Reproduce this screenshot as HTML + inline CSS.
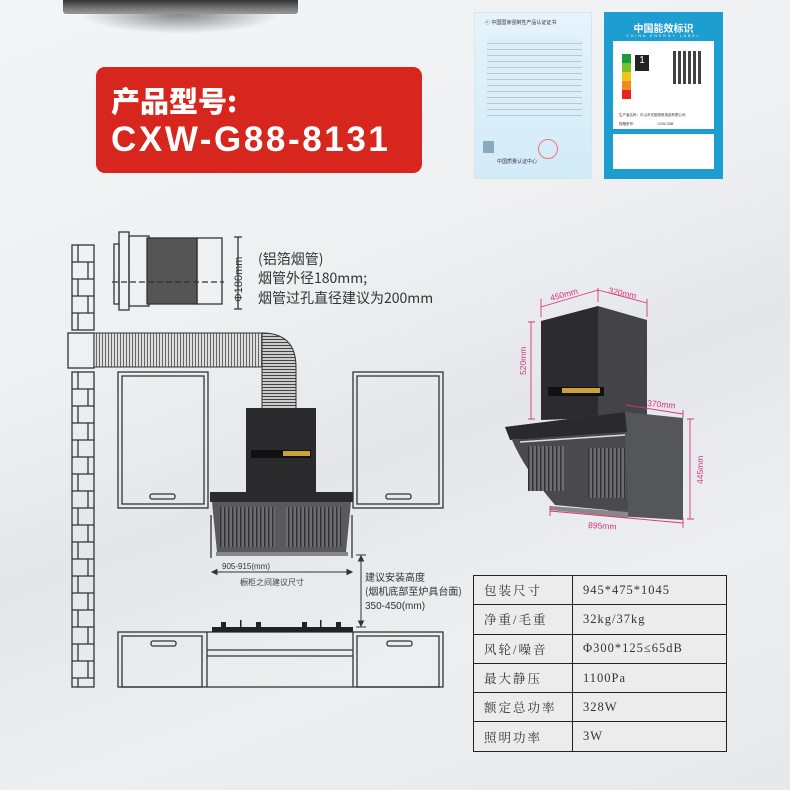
<!DOCTYPE html>
<html><head><meta charset="utf-8"><style>
*{margin:0;padding:0;box-sizing:border-box}
body{width:790px;height:790px;overflow:hidden;position:relative;font-family:"Liberation Sans","Noto Sans CJK SC",sans-serif;background:linear-gradient(160deg,#f3f4f6 0%,#eef0f2 35%,#e4e6e9 55%,#eceef0 75%,#e6e8ea 100%)}
.a{position:absolute}
.red{left:96px;top:67px;width:326px;height:106px;background:#d7261e;border-radius:9px;color:#fff;font-weight:bold;white-space:nowrap}
.tbl{left:473px;top:575px;width:254px;border-collapse:collapse;font-family:"Liberation Serif","Noto Serif CJK SC",serif;font-size:12.5px;color:#333}
.tbl td{border:1.6px solid #222;height:29.3px;padding-left:10px;background:#ececec;letter-spacing:1px}
.tbl td:first-child{width:99px;letter-spacing:2px}
</style></head><body>
<div class="a" style="left:63px;top:0;width:235px;height:14px;background:linear-gradient(#333,#777 60%,#999);border-radius:0 0 3px 3px"></div>
<div class="a" style="left:80px;top:14px;width:200px;height:20px;background:radial-gradient(ellipse at 50% 0%,rgba(0,0,0,.45),rgba(0,0,0,0) 70%)"></div>
<div class="a red"><div class="a" style="left:15px;top:16px;font-size:29px;font-family:'Noto Sans CJK SC',sans-serif;font-weight:900;line-height:34px">产品型号:</div>
<div class="a" style="left:15px;top:53px;font-size:35px;letter-spacing:2.6px;line-height:40px">CXW-G88-8131</div></div>
<div class="a" style="left:474px;top:12px;width:118px;height:167px;background:linear-gradient(#e6f3fb,#d2ebf8);border:1px solid #d8e6ee">
<div class="a" style="left:10px;top:6px;font-size:5px;color:#333">ⓒ 中国国家强制性产品认证证书</div>
<div class="a" style="left:12px;top:25px;width:95px;height:78px;background:repeating-linear-gradient(#dbecf7 0 5px,#8aa 5px 6px);opacity:.5"></div>
<div class="a" style="left:63px;top:126px;width:20px;height:20px;border:1.5px solid #e77;border-radius:50%"></div>
<div class="a" style="left:8px;top:128px;width:11px;height:12px;background:#8ab"></div>
<div class="a" style="left:22px;top:145px;font-size:5px;color:#335">中国质量认证中心</div></div>
<div class="a" style="left:604px;top:12px;width:119px;height:167px;background:#1e9dd0">
<div class="a" style="left:0;width:119px;top:8px;text-align:center;color:#fff;font-size:10px;font-weight:bold">中国能效标识</div>
<div class="a" style="left:0;width:119px;top:22px;text-align:center;color:#fff;font-size:3.5px;letter-spacing:2px">CHINA ENERGY LABEL</div>
<div class="a" style="left:9px;top:29px;width:101px;height:88px;background:#fff">
<div class="a" style="left:9px;top:13px;width:9px;height:45px;background:linear-gradient(#1a9a3a 0 20%,#7bbf2a 20% 40%,#f2c413 40% 60%,#f08a1c 60% 80%,#e52521 80%)"></div>
<div class="a" style="left:22px;top:14px;width:14px;height:16px;background:#222;color:#fff;font-size:10px;text-align:center">1</div>
<div class="a" style="left:60px;top:10px;width:30px;height:33px;background:repeating-linear-gradient(90deg,#222 0 3px,#fff 3px 5px),#222;opacity:.85"></div>
<div class="a" style="left:6px;top:72px;font-size:3.5px;color:#333">生产者名称：中山市天厨厨房用品有限公司</div>
<div class="a" style="left:6px;top:81px;font-size:3.5px;color:#333">规格型号：　　　　　　CXW-G88</div></div>
<div class="a" style="left:9px;top:122px;width:101px;height:35px;background:#fff"></div></div>
<svg class="a" style="left:0;top:0" width="790" height="790">
<g fill="none" stroke="#333" stroke-width="1.3">
<rect x="72" y="245" width="22" height="85"/>
<rect x="72" y="372" width="22" height="315"/>
<path d="M72,262h22M72,279h22M72,296h22M72,313h22M78,245v17M88,262v17M78,279v17M88,296v17M78,313v17"/>
<path d="M72,389h22M72,406h22M72,423h22M72,440h22M72,457h22M72,474h22M72,491h22M72,508h22M72,525h22M72,542h22M72,559h22M72,576h22M72,593h22M72,610h22M72,627h22M72,644h22M72,661h22M72,678h22"/>
<path d="M78,372v17M88,389v17M78,406v17M88,423v17M78,440v17M88,457v17M78,474v17M88,491v17M78,508v17M88,525v17M78,542v17M88,559v17M78,576v17M88,593v17M78,610v17M88,627v17M78,644v17M88,661v17M78,678v9"/>
<rect x="68" y="333" width="26" height="35"/>
<rect x="119" y="232" width="10" height="78"/><rect x="129" y="236" width="20" height="70"/>
<rect x="147" y="238" width="50" height="66" fill="#555"/><rect x="197" y="238" width="25" height="66"/>
<path d="M112,282h112" stroke-dasharray="6,3"/>
<rect x="114" y="244" width="5" height="60"/>
<path d="M238,237v72M234,237h8M234,309h8"/>
<rect x="118" y="372" width="90" height="136"/><rect x="122" y="376" width="82" height="128"/>
<rect x="150" y="494" width="25" height="5" rx="2"/>
<rect x="353" y="372" width="90" height="136"/><rect x="357" y="376" width="82" height="128"/>
<rect x="386" y="494" width="25" height="5" rx="2"/>
<rect x="118" y="632" width="325" height="55"/><rect x="122" y="636" width="80" height="51"/>
<rect x="357" y="636" width="82" height="51"/><path d="M207,632v55M353,632v55M207,650h146M207,656h146"/>
<rect x="151" y="641" width="25" height="5" rx="2"/><rect x="387" y="641" width="25" height="5" rx="2"/>
<path d="M211,515v43M352,515v43"/>
</g>
<defs><pattern id="rib" width="3" height="10" patternUnits="userSpaceOnUse"><rect width="3" height="10" fill="#ddd"/><rect width="1" height="10" fill="#666"/></pattern>
<pattern id="rib2" width="10" height="3" patternUnits="userSpaceOnUse"><rect width="10" height="3" fill="#ccc"/><rect width="10" height="1" fill="#444"/></pattern>
<pattern id="vent" width="4" height="10" patternUnits="userSpaceOnUse"><rect width="4" height="10" fill="#6c6c70"/><rect width="1.5" height="10" fill="#333"/></pattern></defs>
<rect x="94" y="333" width="170" height="34" fill="url(#rib)" stroke="#333"/>
<path d="M262,333 Q296,333 296,367 L296,410 L262,410 L262,367 Z" fill="url(#rib2)" stroke="#333"/>
<rect x="246" y="408" width="70" height="86" fill="#2a2a2c"/>
<rect x="251" y="450" width="60" height="8" fill="#111"/><rect x="283" y="451" width="27" height="5" fill="#c9a23a"/>
<rect x="210" y="492" width="143" height="10" fill="#2b2b2d"/>
<path d="M212,502 L351,502 L346,552 L217,552 Z" fill="#5a5a5e"/>
<path d="M220,507h55v40h-55zM286,507h55v40h-55z" fill="url(#vent)"/>
<rect x="216" y="552" width="132" height="4" fill="#888"/>
<rect x="212" y="627" width="141" height="5" fill="#222"/>
<g fill="#222"><rect x="221" y="622" width="5" height="6"/><rect x="256" y="622" width="5" height="6"/><rect x="302" y="622" width="5" height="6"/><rect x="336" y="622" width="5" height="6"/><rect x="240" y="620" width="1.5" height="8"/><rect x="320" y="620" width="1.5" height="8"/></g>
<g stroke="#333" stroke-width="1" fill="#333">
<path d="M214,572h136"/><path d="M212,572l5,-2.5v5zM352,572l-5,-2.5v5z"/>
<path d="M361,556v70M356,555h10M356,627h10"/><path d="M361,556l-2.5,5h5zM361,626l-2.5,-5h5z"/>
</g>
<text x="222" y="569" font-size="8" fill="#333" font-family="Liberation Sans">905-915(mm)</text>
<text x="240" y="585" font-size="8" fill="#444" font-family="Noto Sans CJK SC">橱柜之间建议尺寸</text>
<text x="365" y="581" font-size="10" fill="#333" font-family="Noto Sans CJK SC">建议安装高度</text>
<text x="365" y="595" font-size="10" fill="#333" font-family="Noto Sans CJK SC">(烟机底部至炉具台面)</text>
<text x="365" y="609" font-size="10" fill="#333" font-family="Liberation Sans">350-450(mm)</text>
<text transform="translate(242,302) rotate(-90)" font-size="11" fill="#333" font-family="Liberation Sans">Φ180mm</text>
<text x="258" y="264" font-size="14" fill="#333" font-family="Noto Sans CJK SC">(铝箔烟管)</text>
<text x="258" y="283" font-size="14" fill="#333" font-family="Noto Sans CJK SC">烟管外径180mm;</text>
<text x="258" y="303" font-size="14" fill="#333" font-family="Noto Sans CJK SC">烟管过孔直径建议为200mm</text>
<path d="M541,321 L598,306 L598,418 L541,420 Z" fill="#2c2c30"/>
<path d="M598,306 L647,320 L647,415 L598,418 Z" fill="#444448"/>
<rect x="548" y="387" width="56" height="9" fill="#111"/><rect x="562" y="388" width="38" height="5" fill="#c9a23a"/>
<path d="M505,427 L625,412 L683,418 L683,520 L615,516 Z" fill="#55565a"/>
<path d="M505,427 L625,412 L627,432 L510,440 Z" fill="#2a2a2e"/>
<path d="M512,440 L625,432 L628,512 L555,505 Q525,470 512,440 Z" fill="#4a4a4e"/>
<path d="M528,446h36v45h-36zM588,448h38v50h-38z" fill="url(#vent)"/>
<path d="M520,442 L625,435" stroke="#ddd" stroke-width="1.5"/>
<path d="M550,506 L628,512 L628,518 L550,510Z" fill="#888"/>
<g stroke="#d8337f" stroke-width="0.9" fill="none">
<path d="M541,299v18M598,288v14M647,299v18M541,307 L598,290 M598,290 L647,303"/>
<path d="M531,322v97M528,322h7M528,419h7"/>
<path d="M626,405 L683,414 M683,410v8"/>
<path d="M690,419v100M687,419h7M687,519h7"/>
<path d="M550,511 L683,523 M550,506v10M683,518v10"/>
</g>
<g font-size="8.5" fill="#d8337f" font-family="Liberation Sans">
<text transform="translate(551,301) rotate(-15)">450mm</text>
<text transform="translate(608,293) rotate(12)">320mm</text>
<text transform="translate(526,375) rotate(-90)">520mm</text>
<text transform="translate(647,406) rotate(5)">370mm</text>
<text transform="translate(703,484) rotate(-90)">445mm</text>
<text transform="translate(588,528) rotate(3)">895mm</text>
</g>
</svg>
<table class="a tbl">
<tr><td>包装尺寸</td><td>945*475*1045</td></tr>
<tr><td>净重/毛重</td><td>32kg/37kg</td></tr>
<tr><td>风轮/噪音</td><td>Φ300*125≤65dB</td></tr>
<tr><td>最大静压</td><td>1100Pa</td></tr>
<tr><td>额定总功率</td><td>328W</td></tr>
<tr><td>照明功率</td><td>3W</td></tr>
</table>
</body></html>
